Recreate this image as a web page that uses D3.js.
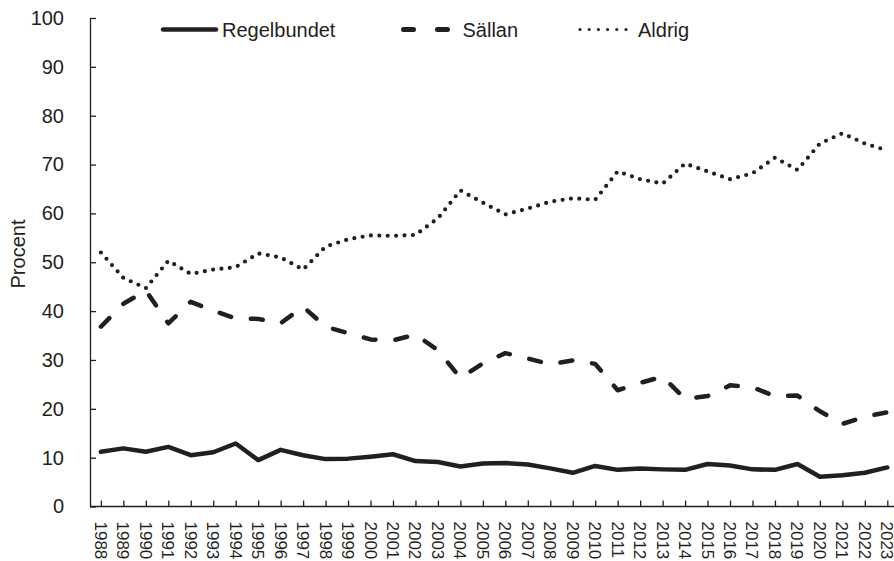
<!DOCTYPE html>
<html>
<head>
<meta charset="utf-8">
<script src="https://cdn.jsdelivr.net/npm/d3@7"></script>
<style>
  html, body { margin: 0; padding: 0; background: #fff; }
  svg { display: block; }
  text { font-family: "Liberation Sans", Arial, sans-serif; fill: #231f20; }
</style>
</head>
<body>
<svg id="chart" width="894" height="561"></svg>
<script>
const years = d3.range(1988, 2024).map(String);
const regelbundet = [11.2, 11.9, 11.2, 12.2, 10.5, 11.1, 12.9, 9.5, 11.6, 10.5, 9.7, 9.8, 10.2, 10.7, 9.3, 9.1, 8.2, 8.8, 8.9, 8.6, 7.8, 6.9, 8.3, 7.5, 7.8, 7.6, 7.5, 8.7, 8.4, 7.6, 7.5, 8.7, 6.1, 6.4, 6.9, 8.0];
const sallan = [36.8, 41.5, 44.2, 37.5, 41.9, 40.1, 38.5, 38.4, 37.5, 40.9, 36.8, 35.5, 34.2, 34.0, 35.2, 32.0, 26.3, 29.3, 31.4, 30.3, 29.1, 29.9, 29.2, 23.8, 25.3, 26.6, 22.0, 22.6, 24.8, 24.4, 22.6, 22.7, 19.5, 16.9, 18.4, 19.3];
const aldrig = [52.0, 46.8, 44.7, 50.3, 47.6, 48.5, 49.0, 51.8, 51.0, 48.5, 53.2, 54.7, 55.5, 55.4, 55.6, 59.0, 64.7, 62.2, 59.8, 61.0, 62.4, 63.1, 62.8, 68.6, 67.0, 66.1, 70.2, 68.6, 67.0, 68.2, 71.4, 68.9, 74.3, 76.4, 74.3, 72.9];
const yTicks = [0, 10, 20, 30, 40, 50, 60, 70, 80, 90, 100];
const seriesNames = ["Regelbundet", "Sällan", "Aldrig"];
const yTitle = "Procent";

const ink = "#231f20";
const svg = d3.select("#chart");
const x = d3.scalePoint().domain(years).range([100.9, 887.3]);
const y = d3.scaleLinear().domain([0, 100]).range([506.5, 18]);
const axisLeftX = 90;

// Y axis
const yAxis = svg.append("g")
  .attr("transform", `translate(${axisLeftX},0)`)
  .call(d3.axisLeft(y).tickValues(yTicks).tickSizeInner(-6).tickSizeOuter(0).tickPadding(26));
yAxis.select(".domain").attr("stroke", ink).attr("stroke-width", 1.3);
yAxis.selectAll(".tick line").attr("stroke", ink).attr("stroke-width", 1.3);
yAxis.selectAll(".tick text").attr("font-size", 20).attr("fill", ink)
  .attr("font-family", "Liberation Sans, Arial, sans-serif");

// X axis
const xAxis = svg.append("g")
  .attr("transform", `translate(0,${y(0)})`)
  .call(d3.axisBottom(x).tickSizeInner(-6).tickSizeOuter(0).tickPadding(0));
xAxis.select(".domain").remove();
xAxis.append("line").attr("x1", axisLeftX).attr("x2", 894).attr("y1", 0).attr("y2", 0)
  .attr("stroke", ink).attr("stroke-width", 1.3);
xAxis.selectAll(".tick line").attr("stroke", ink).attr("stroke-width", 1.3);
xAxis.selectAll(".tick text")
  .attr("font-size", 17).attr("fill", ink)
  .attr("font-family", "Liberation Sans, Arial, sans-serif")
  .attr("text-anchor", "start")
  .attr("dy", null)
  .attr("y", 0)
  .attr("transform", "translate(-1,15) rotate(90)")
  .attr("dominant-baseline", "central");

// Y title
svg.append("text")
  .attr("transform", "translate(18,254) rotate(-90)")
  .attr("text-anchor", "middle")
  .attr("dominant-baseline", "central")
  .attr("font-size", 20)
  .text(yTitle);

// Lines
const line = d3.line().x((d, i) => x(years[i])).y(d => y(d));
const styles = [
  { data: regelbundet, width: 4.5, dash: null, cap: "round" },
  { data: sallan, width: 4.5, dash: "12 20", cap: "round" },
  { data: aldrig, width: 4.2, dash: "0 8.4", cap: "round" }
];
styles.forEach(s => {
  svg.append("path")
    .datum(s.data)
    .attr("d", line)
    .attr("fill", "none")
    .attr("stroke", ink)
    .attr("stroke-width", s.width)
    .attr("stroke-linejoin", "round")
    .attr("stroke-linecap", s.cap)
    .attr("stroke-dasharray", s.dash);
});

// Legend
const legend = [
  { name: seriesNames[0], x1: 163, x2: 216, width: 4.5, dash: null, tx: 222 },
  { name: seriesNames[1], x1: 403.5, x2: 448.5, width: 5, dash: "10 24", tx: 462.5 },
  { name: seriesNames[2], x1: 580, x2: 626, width: 3.2, dash: "0 9.2", tx: 638 }
];
const lg = svg.append("g");
legend.forEach(l => {
  lg.append("line")
    .attr("x1", l.x1).attr("x2", l.x2).attr("y1", 29.5).attr("y2", 29.5)
    .attr("stroke", ink).attr("stroke-width", l.width)
    .attr("stroke-linecap", "round")
    .attr("stroke-dasharray", l.dash);
  lg.append("text")
    .attr("x", l.tx).attr("y", 29.5)
    .attr("dominant-baseline", "central")
    .attr("font-size", 20)
    .text(l.name);
});
</script>
</body>
</html>
